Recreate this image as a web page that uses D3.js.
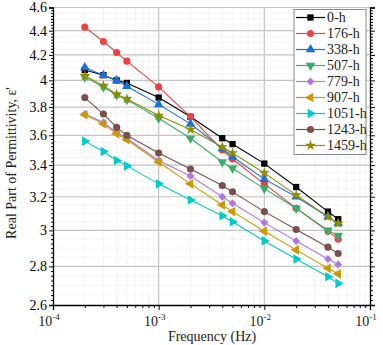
<!DOCTYPE html>
<html>
<head>
<meta charset="utf-8">
<script src="https://cdn.jsdelivr.net/npm/d3@7"></script>
<style>
  body { margin: 0; background: #fff; }
</style>
</head>
<body>
<svg id="chart" width="383" height="345"></svg>
<script>
// frequencies (Hz)
const freqs = [2e-4, 3e-4, 4e-4, 5e-4, 1e-3, 2e-3, 4e-3, 5e-3, 1e-2, 2e-2, 4e-2, 5e-2];

const seriesNames = ["0-h", "176-h", "338-h", "507-h", "779-h", "907-h", "1051-h", "1243-h", "1459-h"];
const seriesColors = ["#000000", "#F14040", "#1A6FDF", "#37AD6B", "#B177DE", "#CC9900", "#00CBCC", "#7D4E4E", "#8E8E00"];
const seriesMarkers = ["square", "circle", "up", "down", "diamond", "left", "right", "circle", "star"];

// real part of permittivity
const h0    = [4.08, 4.04, 4.00, 3.98, 3.87, 3.73, 3.58, 3.54, 3.41, 3.26, 3.11, 3.065];
const h176  = [4.43, 4.31, 4.22, 4.15, 3.95, 3.73, 3.50, 3.44, 3.28, 3.13, 2.995, 2.95];
const h338  = [4.10, 4.04, 4.00, 3.955, 3.82, 3.68, 3.51, 3.455, 3.31, 3.20, 3.08, 3.04];
const h507  = [4.025, 3.95, 3.89, 3.855, 3.72, 3.58, 3.42, 3.38, 3.25, 3.13, 3.00, 2.97];
const h779  = [3.75, 3.69, 3.62, 3.58, 3.43, 3.33, 3.20, 3.16, 3.045, 2.94, 2.84, 2.81];
const h907  = [3.745, 3.68, 3.61, 3.57, 3.42, 3.28, 3.15, 3.11, 2.995, 2.89, 2.79, 2.76];
const h1051 = [3.56, 3.49, 3.43, 3.395, 3.28, 3.18, 3.085, 3.05, 2.94, 2.84, 2.745, 2.71];
const h1243 = [3.87, 3.75, 3.655, 3.60, 3.48, 3.375, 3.27, 3.23, 3.11, 3.005, 2.905, 2.87];
const h1459 = [4.035, 3.96, 3.895, 3.86, 3.74, 3.64, 3.52, 3.48, 3.35, 3.21, 3.08, 3.04];

const seriesValues = [h0, h176, h338, h507, h779, h907, h1051, h1243, h1459];

const xTicks = [1e-4, 1e-3, 1e-2, 1e-1];
const xTickExp = ["-4", "-3", "-2", "-1"];
const yTicks = [2.6, 2.8, 3.0, 3.2, 3.4, 3.6, 3.8, 4.0, 4.2, 4.4, 4.6];
const yTickLabels = ["2.6", "2.8", "3", "3.2", "3.4", "3.6", "3.8", "4", "4.2", "4.4", "4.6"];

const serif = "'Liberation Serif', 'Times New Roman', Times, 'DejaVu Serif', serif";

const svg = d3.select("#chart");
const margin = {left: 53, right: 370, top: 7.5, bottom: 305};

const x = d3.scaleLog().domain([1e-4, 1e-1]).range([margin.left, margin.right]);
const y = d3.scaleLog().domain([2.6, 4.6]).range([margin.bottom, margin.top]);

// minor positions
const xMinor = [];
for (let e = -4; e < -1; e++) {
  for (let k = 2; k <= 9; k++) xMinor.push(k * Math.pow(10, e));
}
const yMinor = d3.range(2.6, 4.6001, 0.025).map(d => +d.toFixed(3)).filter(d => !yTicks.some(t => Math.abs(t - d) < 1e-6));
const yMinorGrid = d3.range(2.65, 4.6, 0.05).map(d => +d.toFixed(3)).filter(d => !yTicks.some(t => Math.abs(t - d) < 1e-6));

// grid
const grid = svg.append("g").attr("class", "grid");
grid.selectAll(".xminor").data(xMinor).join("line")
  .attr("x1", d => x(d)).attr("x2", d => x(d))
  .attr("y1", margin.top).attr("y2", margin.bottom)
  .attr("stroke", "#ececec").attr("stroke-width", 0.8).attr("stroke-dasharray", "2,1");
grid.selectAll(".yminor").data(yMinorGrid).join("line")
  .attr("x1", margin.left).attr("x2", margin.right)
  .attr("y1", d => y(d)).attr("y2", d => y(d))
  .attr("stroke", "#ececec").attr("stroke-width", 0.8).attr("stroke-dasharray", "2,1");
grid.selectAll(".xmajor").data([1e-3, 1e-2]).join("line")
  .attr("x1", d => x(d)).attr("x2", d => x(d))
  .attr("y1", margin.top).attr("y2", margin.bottom)
  .attr("stroke", "#c4c4c4").attr("stroke-width", 1.2);
grid.selectAll(".ymajor").data(yTicks.slice(1)).join("line")
  .attr("x1", margin.left).attr("x2", margin.right)
  .attr("y1", d => y(d)).attr("y2", d => y(d))
  .attr("stroke", "#c4c4c4").attr("stroke-width", 1.2);

// axes
const xAxis = d3.axisBottom(x).tickValues(xTicks).tickSize(5).tickFormat("");
const xAxisMinor = d3.axisBottom(x).tickValues(xMinor).tickSize(3).tickFormat("");
const yAxis = d3.axisLeft(y).tickValues(yTicks).tickSize(4).tickFormat((d, i) => yTickLabels[i]);
const yAxisMinor = d3.axisLeft(y).tickValues(yMinor).tickSize(2).tickFormat("");
const yRight = d3.axisRight(y).tickValues(yTicks).tickSize(5).tickFormat("");
const yRightMinor = d3.axisRight(y).tickValues(yMinor).tickSize(3).tickFormat("");

const gx = svg.append("g").attr("transform", `translate(0,${margin.bottom})`);
gx.call(xAxis);
gx.append("g").call(xAxisMinor).select(".domain").remove();
const gy = svg.append("g").attr("transform", `translate(${margin.left},0)`);
gy.call(yAxis);
gy.append("g").call(yAxisMinor).select(".domain").remove();
const gr = svg.append("g").attr("transform", `translate(${margin.right},0)`);
gr.call(yRight);
gr.append("g").call(yRightMinor).select(".domain").remove();

svg.selectAll(".domain").attr("stroke", "#000").attr("stroke-width", 1.3);
svg.selectAll(".tick line").attr("stroke", "#000").attr("stroke-width", 1);
gy.selectAll(".tick text").attr("font-size", 14).attr("fill", "#000").attr("x", -6);

// x tick labels with superscripts
const xl = svg.append("g");
xTicks.forEach((t, i) => {
  const txt = xl.append("text")
    .attr("x", x(t) - 4).attr("y", margin.bottom + 21)
    .attr("text-anchor", "middle").attr("font-size", 14).attr("fill", "#222");
  txt.append("tspan").text("10");
  txt.append("tspan").attr("dy", -6).attr("font-size", 9).text(xTickExp[i]);
});

// axis titles
svg.append("text")
  .attr("x", 212).attr("y", 341)
  .attr("text-anchor", "middle").attr("font-size", 14).attr("fill", "#222")
  .text("Frequency (Hz)");
svg.append("text")
  .attr("transform", "translate(16,163) rotate(-90)")
  .attr("text-anchor", "middle").attr("font-size", 14).attr("fill", "#222")
  .text("Real Part of Permittivity, ε'");

// markers
function markerPath(type, size) {
  const tri = d3.symbol(d3.symbolTriangle, size)();
  switch (type) {
    case "square": return {d: d3.symbol(d3.symbolSquare, size)(), rot: 0};
    case "circle": return {d: d3.symbol(d3.symbolCircle, size)(), rot: 0};
    case "up": return {d: tri, rot: 0};
    case "down": return {d: tri, rot: 180};
    case "left": return {d: tri, rot: -90};
    case "right": return {d: tri, rot: 90};
    case "diamond": return {d: d3.symbol(d3.symbolSquare, size * 0.8)(), rot: 45};
    case "star": return {d: d3.symbol(d3.symbolStar, size * 0.9)(), rot: 0};
  }
}

const line = d3.line().x(d => x(d.f)).y(d => y(d.v));
const plot = svg.append("g");
seriesNames.forEach((name, i) => {
  const pts = freqs.map((f, j) => ({f: f, v: seriesValues[i][j]}));
  const g = plot.append("g");
  g.append("path")
    .attr("d", line(pts))
    .attr("fill", "none")
    .attr("stroke", seriesColors[i])
    .attr("stroke-width", 1.1);
  const m = markerPath(seriesMarkers[i], 40);
  g.selectAll("path.mk").data(pts).join("path")
    .attr("class", "mk")
    .attr("d", m.d)
    .attr("transform", d => `translate(${x(d.f)},${y(d.v)}) rotate(${m.rot})`)
    .attr("fill", seriesColors[i]);
});

// legend
const lg = svg.append("g").attr("transform", "translate(294,9.5)");
lg.append("rect")
  .attr("width", 72).attr("height", 145)
  .attr("fill", "#fff").attr("stroke", "#8a8a8a").attr("stroke-width", 1);
seriesNames.forEach((name, i) => {
  const yy = 8 + i * 16;
  lg.append("line")
    .attr("x1", 2).attr("x2", 31).attr("y1", yy).attr("y2", yy)
    .attr("stroke", seriesColors[i]).attr("stroke-width", 1.2);
  const m = markerPath(seriesMarkers[i], 40);
  lg.append("path")
    .attr("d", m.d)
    .attr("transform", `translate(16.5,${yy}) rotate(${m.rot})`)
    .attr("fill", seriesColors[i]);
  lg.append("text")
    .attr("x", 33).attr("y", yy + 4.5)
    .attr("font-size", 14).attr("fill", "#222")
    .text(name);
});

svg.selectAll("text").style("font-family", serif);
</script>
</body>
</html>
